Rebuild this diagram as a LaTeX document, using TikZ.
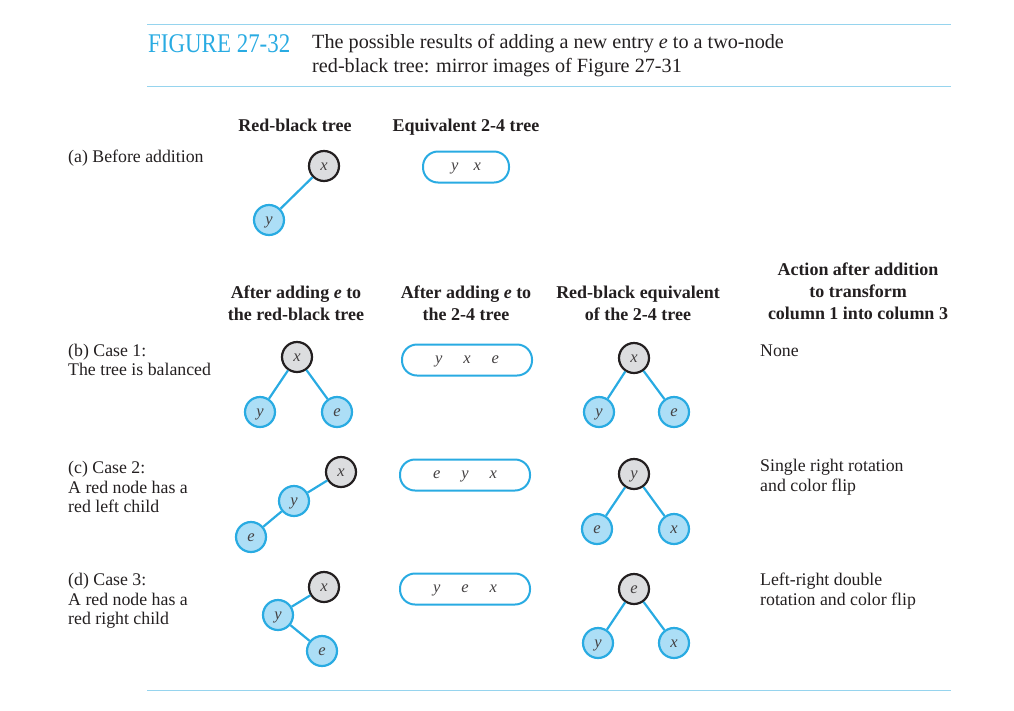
\documentclass[tikz,border=0pt]{standalone}
\usepackage{fontspec}
\setmainfont{Liberation Serif}
\newfontfamily\figfont[FakeStretch=0.85]{Liberation Serif}
\usepackage{tikz}
\usetikzlibrary{positioning}
\definecolor{rbblue}{RGB}{41,171,226}
\definecolor{rbfill}{RGB}{172,222,246}
\definecolor{rbgray}{RGB}{220,221,223}
\definecolor{rbink}{RGB}{35,31,32}
\definecolor{rbrule}{RGB}{150,212,238}

\begin{document}
\begin{tikzpicture}[x=1pt,y=-1pt,font=\fontsize{17.8}{19.5}\selectfont,text=rbink,
    blacknode/.style={circle,draw=rbink,fill=rbgray,line width=2.2pt,minimum size=30pt,inner sep=0pt,text height=1.8ex,text depth=0pt,font=\fontsize{16.5}{16.5}\selectfont\itshape,text=rbink!85},
    rednode/.style={blacknode,draw=rbblue,fill=rbfill},
    fournode/.style={draw=rbblue,line width=2pt,rounded corners=15pt,minimum height=31pt,minimum width=130pt,inner sep=0pt,text height=1.6ex,text depth=0pt,font=\fontsize{16.5}{16.5}\selectfont\itshape,text=rbink!85},
    link/.style={rbblue,line width=2.2pt},
    head/.style={font=\fontsize{18}{22}\selectfont\bfseries,align=center,inner sep=0pt},
    note/.style={anchor=west,align=left,inner sep=0pt},
    rule/.style={rbrule,line width=1pt}]
    \useasboundingbox (0,0) rectangle (1014,710);

    % caption
    \coordinate (r1a) at (147,24);  \coordinate (r1b) at (951,24);
    \coordinate (r2a) at (147,86);  \coordinate (r2b) at (951,86);
    \coordinate (r3a) at (147,690); \coordinate (r3b) at (951,690);
    \path (r1a) edge[rule] (r1b);
    \path (r2a) edge[rule] (r2b);
    \path (r3a) edge[rule] (r3b);
    \node[anchor=base west,inner sep=0pt,text=rbblue,font=\fontsize{27}{27}\selectfont\figfont] (fig) at (148,52) {FIGURE 27-32};
    \node[note,font=\fontsize{20.2}{24}\selectfont] (cap) at (312,56) {The possible results of adding a new entry \textit{e} to a two-node\\red-black tree: mirror images of Figure 27-31};

    % headings
    \node[head] (h1) at (295,125) {Red-black tree};
    \node[head] (h2) at (466,127) {Equivalent 2-4 tree};
    \node[head] (h3) at (296,303) {After adding \textit{e} to\\the red-black tree};
    \node[head] (h4) at (466,303) {After adding \textit{e} to\\the 2-4 tree};
    \node[head] (h5) at (638,303) {Red-black equivalent\\of the 2-4 tree};
    \node[head] (h6) at (858,291) {Action after addition\\to transform\\column 1 into column 3};

    % (a)
    \node[note] (la) at (68,158) {(a) Before addition};
    \node[blacknode] (ax) at (324,166) {x};
    \node[rednode] (ay) at (269,220) {y};
    \path (ax) edge[link] (ay);
    \node[fournode,minimum width=86pt] (aq) at (466,167) {y\hspace{15pt}x};

    % (b)
    \node[note] (lb) at (68,360) {(b) Case 1:\\The tree is balanced};
    \node[blacknode] (bx) at (297,357) {x};
    \node[rednode] (by) at (260,412) {y};
    \node[rednode] (be) at (337,412) {e};
    \path (bx) edge[link] (by);
    \path (bx) edge[link] (be);
    \node[fournode] (bq) at (467,360) {y\hspace{21pt}x\hspace{21pt}e};
    \node[blacknode] (bx2) at (634,358) {x};
    \node[rednode] (by2) at (599,412) {y};
    \node[rednode] (be2) at (674,412) {e};
    \path (bx2) edge[link] (by2);
    \path (bx2) edge[link] (be2);
    \node[note] (nb) at (760,351) {None};

    % (c)
    \node[note] (lc) at (68,487) {(c) Case 2:\\A red node has a\\red left child};
    \node[blacknode] (cx) at (341,472) {x};
    \node[rednode] (cy) at (294,501) {y};
    \node[rednode] (ce) at (251,537) {e};
    \path (cx) edge[link] (cy);
    \path (cy) edge[link] (ce);
    \node[fournode] (cq) at (465,475) {e\hspace{21pt}y\hspace{21pt}x};
    \node[blacknode] (cy2) at (634,474) {y};
    \node[rednode] (ce2) at (597,529) {e};
    \node[rednode] (cx2) at (674,529) {x};
    \path (cy2) edge[link] (ce2);
    \path (cy2) edge[link] (cx2);
    \node[note] (nc) at (760,477) {Single right rotation\\and color flip};

    % (d)
    \node[note] (ld) at (68,601) {(d) Case 3:\\A red node has a\\red right child};
    \node[blacknode] (dx) at (324,587) {x};
    \node[rednode] (dy) at (278,615) {y};
    \node[rednode] (de) at (322,651) {e};
    \path (dx) edge[link] (dy);
    \path (dy) edge[link] (de);
    \node[fournode] (dq) at (465,589) {y\hspace{21pt}e\hspace{21pt}x};
    \node[blacknode] (de2) at (634,589) {e};
    \node[rednode] (dy2) at (598,643) {y};
    \node[rednode] (dx2) at (674,643) {x};
    \path (de2) edge[link] (dy2);
    \path (de2) edge[link] (dx2);
    \node[note] (nd) at (760,591) {Left-right double\\rotation and color flip};
\end{tikzpicture}
\end{document}
